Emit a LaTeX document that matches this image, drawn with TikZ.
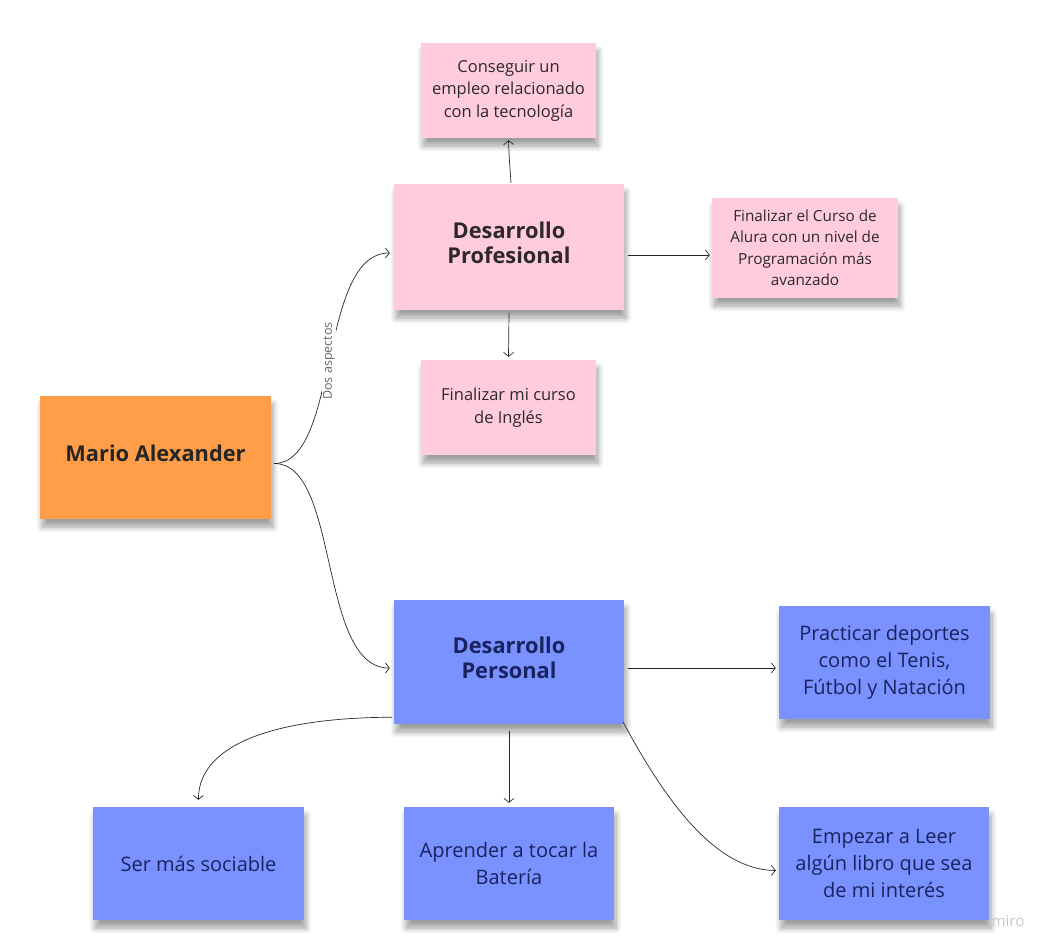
\documentclass[tikz,border=0pt]{standalone}
\usepackage{fontspec}
\setmainfont{Open Sans}
\usetikzlibrary{arrows.meta,shadows.blur}
\definecolor{orangenote}{RGB}{255,157,72}
\definecolor{pinknote}{RGB}{255,204,222}
\definecolor{bluenote}{RGB}{122,146,255}
\definecolor{pinktext}{RGB}{45,40,45}
\definecolor{bluetext}{RGB}{25,35,95}
\definecolor{linecol}{RGB}{40,40,40}
\tikzset{
  note/.style={minimum width=#1, inner sep=0pt, align=center,
    blur shadow={shadow xshift=2pt,shadow yshift=-8pt,shadow blur radius=6pt,shadow blur steps=8,shadow opacity=38}},
  orangebox/.style={note=231pt, minimum height=123pt, fill=orangenote, text=black!85},
  pinkbox/.style={note=#1, fill=pinknote, text=pinktext},
  bluebox/.style={note=#1, fill=bluenote, text=bluetext},
  conn/.style={draw=linecol, line width=0.7pt, -{Straight Barb[length=4pt,width=10pt]}},
  big/.style={font=\fontsize{21.8}{25}\selectfont\bfseries, text depth=8pt},
  small/.style={font=\fontsize{16.5}{22.5}\selectfont},
  smaller/.style={font=\fontsize{15.3}{21.5}\selectfont},
  mid/.style={font=\fontsize{20}{27}\selectfont},
}
\begin{document}
\begin{tikzpicture}[x=1pt,y=-1pt]
\useasboundingbox (0,0) rectangle (1049,952);
% nodes
\node[orangebox, big] (mario) at (155.5,457.5) {Mario Alexander};
\node[pinkbox=230pt, minimum height=126pt, big] (prof) at (509,247) {Desarrollo\\Profesional};
\node[pinkbox=175pt, minimum height=95pt, small] (empleo) at (508.5,90.5) {Conseguir un\\empleo relacionado\\con la tecnología};
\node[pinkbox=186pt, minimum height=100pt, smaller] (alura) at (805,248) {Finalizar el Curso de\\Alura con un nivel de\\Programación más\\avanzado};
\node[pinkbox=175pt, minimum height=95pt, small] (ingles) at (508.5,407.5) {Finalizar mi curso\\de Inglés};
\node[bluebox=230pt, minimum height=124pt, big] (pers) at (509,662) {Desarrollo\\Personal};
\node[bluebox=211pt, minimum height=113pt, mid] (deportes) at (884.5,662.5) {Practicar deportes\\como el Tenis,\\Fútbol y Natación};
\node[bluebox=211pt, minimum height=113pt, mid] (sociable) at (198.5,863.5) {Ser más sociable};
\node[bluebox=210pt, minimum height=113pt, mid] (bateria) at (509,863.5) {Aprender a tocar la\\Batería};
\node[bluebox=210pt, minimum height=113pt, mid] (leer) at (884,863.5) {Empezar a Leer\\algún libro que sea\\de mi interés};
\node[text=black!22, font=\fontsize{15}{17}\selectfont] (miro) at (1008,921) {miro};
% connectors
\coordinate (mR) at ([xshift=3pt,yshift=-6pt]mario.east);
\draw[conn] (mR) .. controls (340,463) and (318,253) .. ([xshift=-4pt,yshift=-6pt]prof.west);
\node[fill=white, inner sep=1.5pt, text=black!60, font=\fontsize{12.5}{14}\selectfont, rotate=90] (lbl) at (329,361) {Dos aspectos};
\draw[conn] (mR) .. controls (340,463) and (318,668) .. ([xshift=-4pt,yshift=-6pt]pers.west);
\draw[conn] ([xshift=2pt,yshift=1pt]prof.north) .. controls (510,170) and (509,155) .. ([yshift=-2pt]empleo.south);
\draw[conn] ([xshift=4pt,yshift=-8pt]prof.east) -- ([xshift=-2pt,yshift=-8pt]prof.east -| alura.west);
\draw[conn] ([yshift=-3pt]prof.south) -- ([yshift=3pt]ingles.north);
\draw[conn] ([xshift=4pt,yshift=-6pt]pers.east) -- ([xshift=-3pt,yshift=-6pt]pers.east -| deportes.west);
\draw[conn] ([xshift=-2pt,yshift=7pt]pers.south west) .. controls (250,718) and (198,755) .. ([yshift=7pt]sociable.north);
\draw[conn] ([yshift=-7pt]pers.south) -- ([yshift=4pt]bateria.north);
\draw[conn] ([xshift=-1pt,yshift=2pt]pers.south east) .. controls (665,800) and (715,870) .. ([xshift=-3pt,yshift=-7pt]leer.west);
\end{tikzpicture}
\end{document}
